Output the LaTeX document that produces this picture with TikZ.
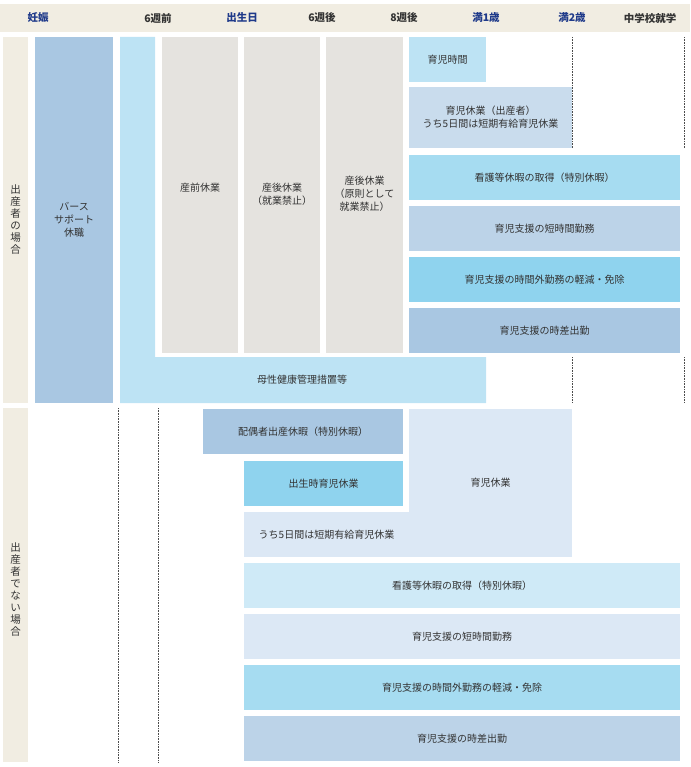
\documentclass[tikz,border=0pt]{standalone}
\usepackage{fontspec}
\setmainfont{Noto Sans CJK JP}
\definecolor{beige}{HTML}{F1EDE2}
\definecolor{hdblue}{HTML}{1F3A8A}
\definecolor{cA}{HTML}{A9C7E2}
\definecolor{cB}{HTML}{BDE3F4}
\definecolor{cC}{HTML}{E5E3DF}
\definecolor{cD}{HTML}{C9DCED}
\definecolor{cE}{HTML}{A6DCF1}
\definecolor{cF}{HTML}{BCD3E8}
\definecolor{cG}{HTML}{8FD3EE}
\definecolor{cH}{HTML}{DCE8F5}
\definecolor{cI}{HTML}{CFEAF7}
\definecolor{txt}{HTML}{333333}
\tikzset{
  box/.style={inner sep=0pt, text=txt, font=\fontsize{10}{13}\selectfont, align=center},
  hd/.style={font=\fontsize{10.5}{12}\selectfont\bfseries, text=txt},
  hdb/.style={hd, text=hdblue},
  grid/.style={densely dotted, line width=0.6pt, black!70},
}
% \Bar{name}{x1}{y1}{x2}{y2}{colour}{text}
\newcommand{\Bar}[7]{%
  \fill[#6] (#2,#3) rectangle (#4,#5);
  \node[box] (#1) at ({(#2+#4)/2},{(#3+#5)/2}) {#7};}
\begin{document}
\begin{tikzpicture}[x=1pt,y=-1pt]
    \useasboundingbox (0,0) rectangle (690,767);
    % header
    \fill[beige] (0,4) rectangle (690,32);
    \node[hdb] (preg) at (38,18) {妊娠};
    \node[hd] (w6a) at (158,18) {6週前};
    \node[hdb] (birth) at (242,18) {出生日};
    \node[hd] (w6b) at (322,18) {6週後};
    \node[hd] (w8b) at (404,18) {8週後};
    \node[hdb] (y1) at (486,18) {満1歳};
    \node[hdb] (y2) at (572,18) {満2歳};
    \node[hd] (school) at (650,18) {中学校就学};

    % side labels
    \fill[beige] (3,37) rectangle (28,403);
    \fill[beige] (3,408) rectangle (28,762);
    \node[box, font=\fontsize{10.5}{12}\selectfont] (sideA) at (15.5,220) {出\\産\\者\\の\\場\\合};
    \node[box, font=\fontsize{10.5}{12}\selectfont] (sideB) at (15.5,590) {出\\産\\者\\で\\な\\い\\場\\合};

    % dotted guides
    \draw[grid] (572,37) -- (572,148) (572,357) -- (572,403);
    \draw[grid] (684,37) -- (684,148) (684,357) -- (684,403);
    \draw[grid] (118,408) -- (118,762) (158,408) -- (158,762);

    % birth parent
    \Bar{birthsup}{35}{37}{113}{403}{cA}{バース\\サポート\\休職}
    \fill[cB] (120,37) -- (155,37) -- (155,357) -- (486,357) -- (486,403) -- (120,403) -- cycle;
    \node[box] (matern) at (302,380) {母性健康管理措置等};
    \fill[cC] (162,37) rectangle (238,353);
    \node[box] (prenat) at (200,188) {産前休業};
    \fill[cC] (244,37) rectangle (320,353);
    \node[box] (postA) at (282,194) {産後休業\\（就業禁止）};
    \fill[cC] (326,37) rectangle (403,353);
    \node[box] (postB) at (364.5,194) {産後休業\\（原則として\\就業禁止）};
    \Bar{nurse}{409}{37}{486}{82}{cB}{育児時間}
    \Bar{leaveA}{409}{87}{572}{148}{cD}{育児休業（出産者）\\うち5日間は短期有給育児休業}
    \Bar{careA}{409}{155}{680}{200}{cE}{看護等休暇の取得（特別休暇）}
    \Bar{shortA}{409}{206}{680}{251}{cF}{育児支援の短時間勤務}
    \Bar{otA}{409}{257}{680}{302}{cG}{育児支援の時間外勤務の軽減・免除}
    \Bar{flexA}{409}{308}{680}{353}{cA}{育児支援の時差出勤}

    % non-birth parent
    \Bar{spouse}{203}{409}{403}{454}{cA}{配偶者出産休暇（特別休暇）}
    \Bar{leaveB}{409}{409}{572}{557}{cH}{育児休業}
    \Bar{atbirth}{244}{461}{403}{506}{cG}{出生時育児休業}
    \Bar{paid}{244}{512}{409}{557}{cH}{うち5日間は短期有給育児休業}
    \Bar{careB}{244}{563}{680}{608}{cI}{看護等休暇の取得（特別休暇）}
    \Bar{shortB}{244}{614}{680}{659}{cH}{育児支援の短時間勤務}
    \Bar{otB}{244}{665}{680}{710}{cE}{育児支援の時間外勤務の軽減・免除}
    \Bar{flexB}{244}{716}{680}{761}{cF}{育児支援の時差出勤}
\end{tikzpicture}
\end{document}
